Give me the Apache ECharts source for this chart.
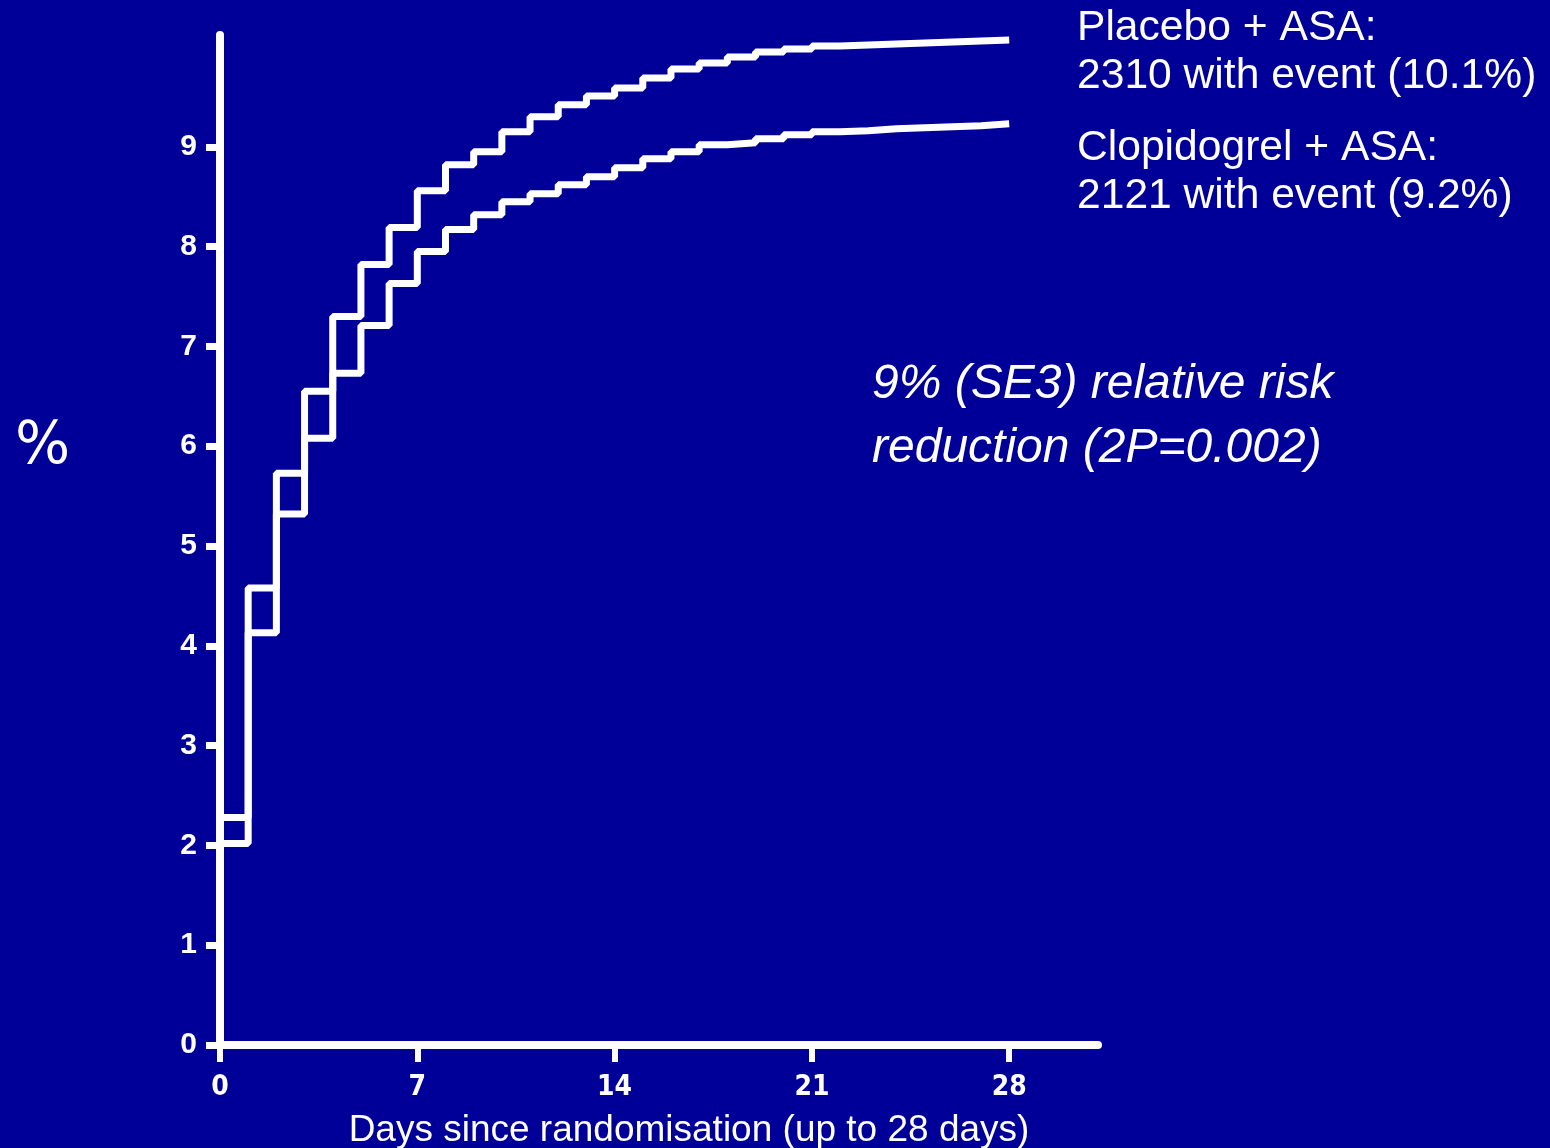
<!DOCTYPE html>
<html>
<head>
<meta charset="utf-8">
<script src="https://cdn.jsdelivr.net/npm/echarts@6/dist/echarts.min.js"></script>
<style>
html,body{margin:0;padding:0;background:#000099;}
#chart{width:1550px;height:1148px;}
</style>
</head>
<body>
<div id="chart"></div>
<script>
// Day index (start of each interval) and cumulative % with event
const days = [0,1,2,3,4,5,6,7,8,9,10,11,12,13,14,15,16,17,18,19,20,21,22,23,24,25,26,27,28];
const placebo = [2.28,4.58,5.73,6.55,7.30,7.82,8.19,8.56,8.82,8.95,9.15,9.30,9.42,9.51,9.59,9.69,9.78,9.84,9.90,9.95,9.98,10.01,10.02,10.03,10.04,10.05,10.06,10.07,10.07];
const clopidogrel = [2.02,4.13,5.32,6.08,6.73,7.21,7.63,7.95,8.17,8.32,8.45,8.53,8.62,8.70,8.79,8.88,8.95,9.02,9.04,9.08,9.12,9.15,9.16,9.18,9.19,9.20,9.21,9.23,9.23];
const xTicks = [0,7,14,21,28];
const yTicks = [0,1,2,3,4,5,6,7,8,9];
const legendLines = ['Placebo + ASA:', '2310 with event (10.1%)', 'Clopidogrel + ASA:', '2121 with event (9.2%)'];
const noteLines = ['9% (SE3) relative risk', 'reduction (2P=0.002)'];
const xTitle = 'Days since randomisation (up to 28 days)';
const yTitle = '%';

const chart = echarts.init(document.getElementById('chart'));
const white = '#ffffff';
const lineStyle = {color: white, width: 7};

chart.setOption({
  backgroundColor: '#000099',
  animation: false,
  grid: {left: 220, right: 452, top: 35, bottom: 103, outerBoundsMode: 'none', containLabel: false},
  xAxis: {
    type: 'value', min: 0, max: 31.15,
    axisLine: {show: true, lineStyle: {color: white, width: 8, cap: 'round'}},
    axisTick: {show: true, length: 17, lineStyle: {color: white, width: 6}, customValues: xTicks},
    axisLabel: {color: white, fontFamily: '"Liberation Sans Narrow", "DejaVu Sans Condensed", sans-serif', fontWeight: 'bold', fontSize: 28, margin: 29, customValues: xTicks},
    splitLine: {show: false},
    name: xTitle, nameLocation: 'middle', nameGap: 67,
    nameTextStyle: {color: white, fontFamily: 'Liberation Sans', fontSize: 37, padding: [0, 0, 0, 60]}
  },
  yAxis: {
    type: 'value', min: 0, max: 10.12,
    axisLine: {show: true, lineStyle: {color: white, width: 8, cap: 'round'}},
    axisTick: {show: true, length: 14, lineStyle: {color: white, width: 7}, customValues: yTicks},
    axisLabel: {color: white, fontFamily: 'Liberation Sans', fontWeight: 'bold', fontSize: 30, margin: 23, customValues: yTicks},
    splitLine: {show: false}
  },
  series: [
    {name: 'Placebo + ASA', type: 'line', step: 'end', showSymbol: false, lineStyle: lineStyle,
     data: days.map((d, i) => [d, placebo[i]])},
    {name: 'Clopidogrel + ASA', type: 'line', step: 'end', showSymbol: false, lineStyle: lineStyle,
     data: days.map((d, i) => [d, clopidogrel[i]])}
  ],
  graphic: [
    {type: 'text', left: 15, top: 419, style: {text: yTitle, fill: white, font: '58px "DejaVu Sans"'}},
    {type: 'text', left: 1077, top: 4, style: {text: legendLines[0] + '\n' + legendLines[1], fill: white, font: '42.6px "Liberation Sans"', lineHeight: 48}},
    {type: 'text', left: 1077, top: 124, style: {text: legendLines[2] + '\n' + legendLines[3], fill: white, font: '42.6px "Liberation Sans"', lineHeight: 48}},
    {type: 'text', left: 872, top: 353, style: {text: noteLines.join('\n'), fill: white, font: 'italic 48px "Liberation Sans"', lineHeight: 64}}
  ]
});
</script>
</body>
</html>
